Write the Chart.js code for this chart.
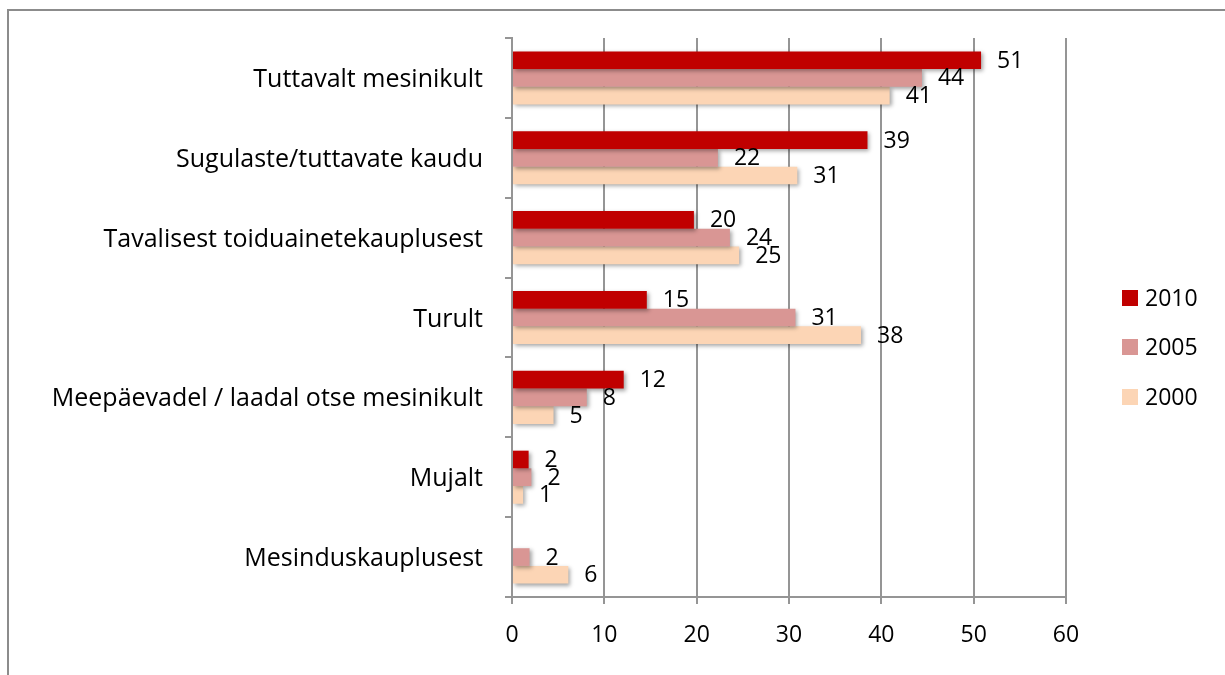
<!DOCTYPE html>
<html>
<head>
<meta charset="utf-8">
<script src="https://cdn.jsdelivr.net/npm/chart.js@4/dist/chart.umd.min.js"></script>
<style>
html,body{margin:0;padding:0;background:#fff;}
#wrap{width:1225px;height:675px;position:relative;}
</style>
</head>
<body>
<div id="wrap"><canvas id="c" width="1225" height="675"></canvas></div>
<script>
const categories = [
  "Tuttavalt mesinikult",
  "Sugulaste/tuttavate kaudu",
  "Tavalisest toiduainetekauplusest",
  "Turult",
  "Meepäevadel / laadal otse mesinikult",
  "Mujalt",
  "Mesinduskauplusest"
];
const seriesNames = ["2010", "2005", "2000"];
const values2010 = [50.8, 38.5, 19.7, 14.6, 12.1, 1.8, 0];
const values2005 = [44.4, 22.3, 23.6, 30.7, 8.1, 2.1, 1.9];
const values2000 = [40.9, 30.9, 24.6, 37.8, 4.5, 1.2, 6.1];
const xTicks = [0, 10, 20, 30, 40, 50, 60];
const colors = ["#C00000", "#D99694", "#FCD5B5"];

const FONT = "'Open Sans'";
const FS = 23;
const CAT_FS = 25;
const LINE = '#959595';

const deco = {
  id: 'deco',
  beforeDraw(chart) {
    const ctx = chart.ctx;
    ctx.save();
    ctx.strokeStyle = '#8c8c8c';
    ctx.lineWidth = 2;
    ctx.beginPath();
    ctx.moveTo(8, 676);
    ctx.lineTo(8, 10);
    ctx.lineTo(1226, 10);
    ctx.stroke();
    ctx.restore();
  },
  beforeDatasetsDraw(chart) {
    const ctx = chart.ctx;
    ctx.save();
    ctx.shadowColor = 'rgba(0,0,0,0.35)';
    ctx.shadowBlur = 4;
    ctx.shadowOffsetX = 2;
    ctx.shadowOffsetY = 2;
  },
  afterDatasetsDraw(chart) {
    const ctx = chart.ctx;
    ctx.restore();
    ctx.save();
    ctx.font = FS + 'px ' + FONT;
    ctx.fillStyle = '#000';
    ctx.textAlign = 'left';
    ctx.textBaseline = 'middle';
    chart.data.datasets.forEach((ds, i) => {
      const meta = chart.getDatasetMeta(i);
      meta.data.forEach((bar, j) => {
        const v = ds.data[j];
        if (!v) return;
        ctx.fillText(String(Math.round(v)), bar.x + 16, bar.y + 1);
      });
    });
    // legend
    const ly = [298, 347, 397];
    chart.data.datasets.forEach((ds, i) => {
      ctx.fillStyle = ds.backgroundColor;
      ctx.fillRect(1122, ly[i] - 8, 16, 16);
      ctx.fillStyle = '#000';
      ctx.fillText(ds.label, 1145, ly[i] + 1);
    });
    ctx.restore();
  }
};

new Chart(document.getElementById('c'), {
  type: 'bar',
  data: {
    labels: categories,
    datasets: [
      { label: seriesNames[0], data: values2010, backgroundColor: colors[0] },
      { label: seriesNames[1], data: values2005, backgroundColor: colors[1] },
      { label: seriesNames[2], data: values2000, backgroundColor: colors[2] }
    ]
  },
  options: {
    indexAxis: 'y',
    responsive: false,
    animation: false,
    devicePixelRatio: 1,
    layout: { padding: { top: 38, right: 159, left: 0, bottom: 0 } },
    datasets: { bar: { categoryPercentage: 0.665, barPercentage: 1.0, borderWidth: 0 } },
    plugins: { legend: { display: false }, tooltip: { enabled: false } },
    scales: {
      x: {
        min: 0, max: 60,
        afterBuildTicks(scale) { scale.ticks = xTicks.map(v => ({ value: v })); },
        afterFit(scale) { scale.height = 78; },
        grid: { color: LINE, lineWidth: 2, tickLength: 7, drawTicks: true },
        border: { color: LINE, width: 2 },
        ticks: { color: '#000', font: { family: FONT, size: FS }, padding: 18, maxRotation: 0 }
      },
      y: {
        afterFit(scale) { scale.width = 512; },
        grid: { drawOnChartArea: false, color: LINE, lineWidth: 2, tickLength: 7, offset: true },
        border: { color: LINE, width: 2 },
        ticks: { color: '#000', font: { family: FONT, size: CAT_FS }, padding: 22, autoSkip: false, labelOffset: 2 }
      }
    }
  },
  plugins: [deco]
});
</script>
</body>
</html>
